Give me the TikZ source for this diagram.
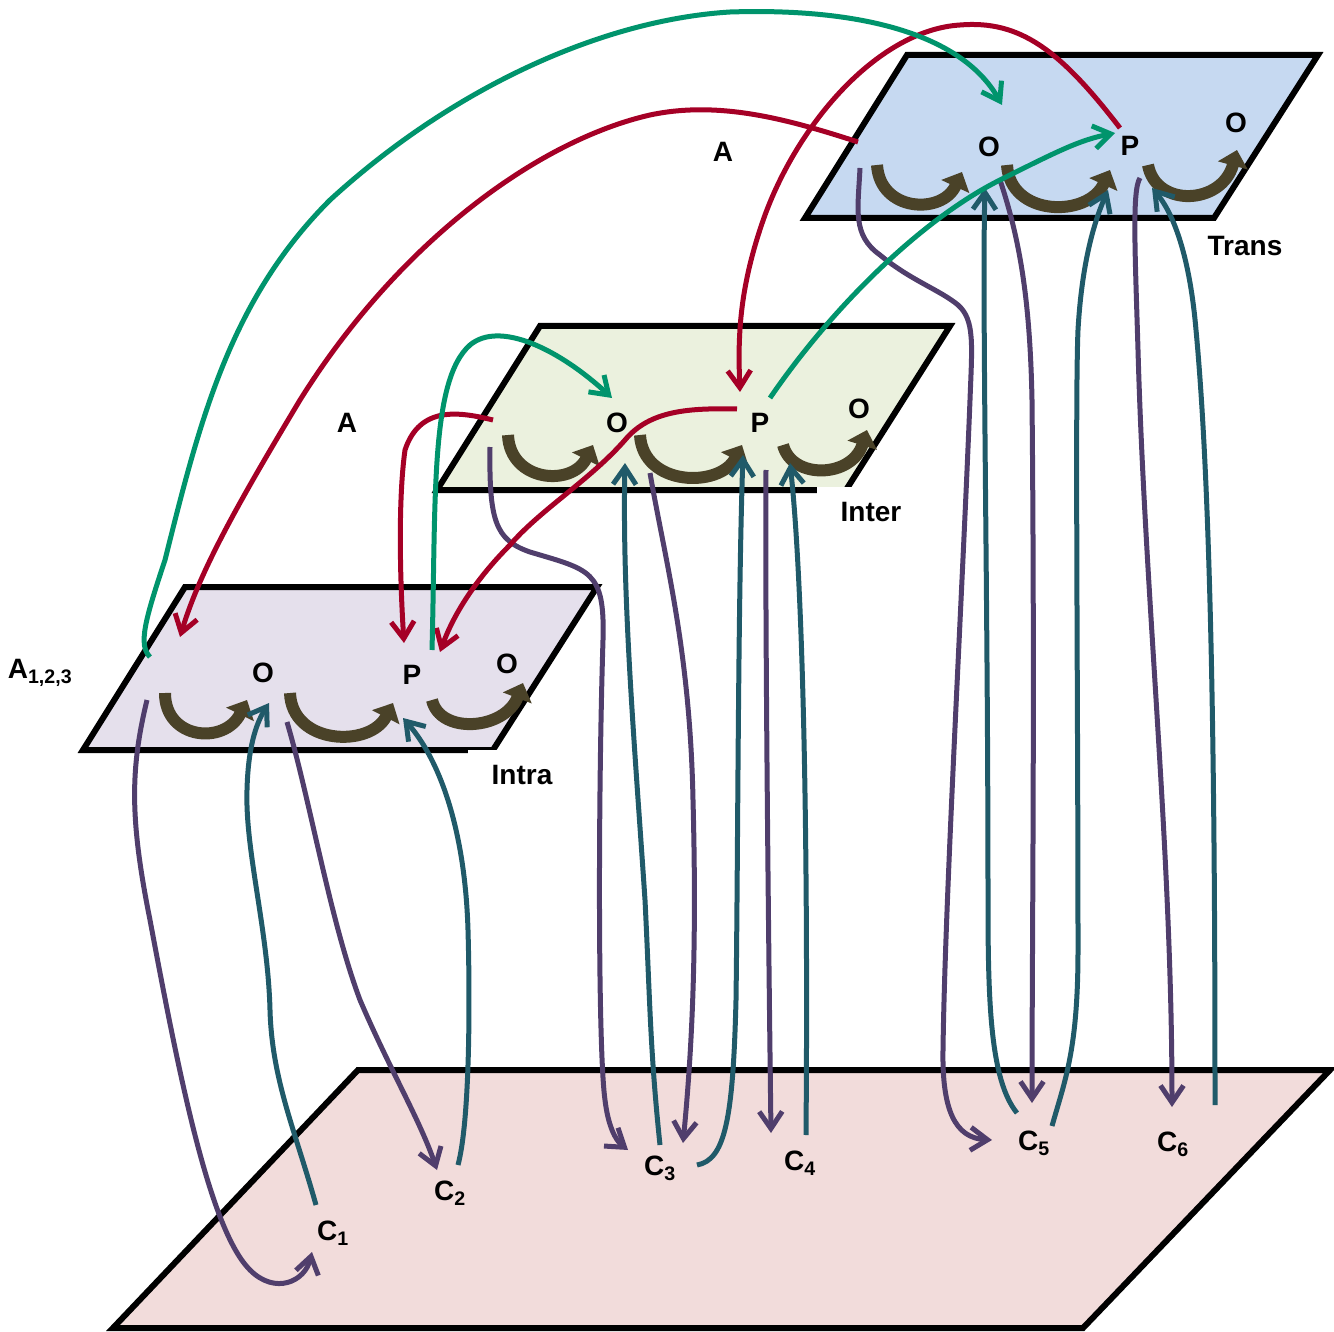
\documentclass[tikz,border=0pt]{standalone}
\usepackage{fontspec}
\setmainfont{Liberation Sans}
\usetikzlibrary{arrows.meta}

\definecolor{redln}{RGB}{165,0,38}
\definecolor{greenln}{RGB}{0,148,108}
\definecolor{purpleln}{RGB}{80,62,108}
\definecolor{tealln}{RGB}{32,90,105}
\definecolor{turnc}{RGB}{74,66,40}
\definecolor{intrafill}{RGB}{229,224,236}
\definecolor{interfill}{RGB}{235,241,222}
\definecolor{transfill}{RGB}{198,217,241}
\definecolor{basefill}{RGB}{242,220,219}

\tikzset{
  plane/.style={draw=black, line width=6pt},
  lbl/.style={font=\fontsize{28}{31}\selectfont\bfseries, inner sep=0pt},
  lvl/.style={lbl, fill=white, inner xsep=24pt, inner ysep=15pt},
  link/.style={line width=5pt, -{Straight Barb[length=17pt,width=23pt]}},
  turn/.style={draw=turnc, line width=12pt, -{Triangle[length=16pt,width=30pt]}},
}

\begin{document}
\begin{tikzpicture}[x=1pt,y=-1pt]
\useasboundingbox (0,0) rectangle (1334,1332);

% Planes
\draw[plane, fill=basefill] (113,1328) -- (358,1070) -- (1330,1070) -- (1083,1328) -- cycle;
\draw[plane, fill=intrafill] (83,750) -- (185,587) -- (597,587) -- (493,750) -- cycle;
\draw[plane, fill=interfill] (437,490) -- (540,326) -- (950,326) -- (846,490) -- cycle;
\draw[plane, fill=transfill] (805,218) -- (907,55) -- (1318,55) -- (1214,218) -- cycle;

% Level names
\node[lvl] (intra) at (522,775) {Intra};
\node[lvl] (inter) at (871,512) {Inter};
\node[lvl] (trans) at (1245,246) {Trans};

% Letters on the planes
\node[lbl] (intraO) at (263,673) {O};
\node[lbl] (intraP) at (412,675) {P};
\node[lbl] (intraO2) at (507,664) {O};
\node[lbl] (interO) at (617,423) {O};
\node[lbl] (interP) at (760,423) {P};
\node[lbl] (interO2) at (859,409) {O};
\node[lbl] (transO) at (989,147) {O};
\node[lbl] (transP) at (1130,146) {P};
\node[lbl] (transO2) at (1236,123) {O};

\node[lbl] (aTop) at (723,152) {A};
\node[lbl] (aMid) at (347,423) {A};
\node[lbl] (aLow) at (40,673) {A\textsubscript{1,2,3}};

% Bottom labels
\node[lbl] (c1) at (333,1233) {C\textsubscript{1}};
\node[lbl] (c2) at (450,1193) {C\textsubscript{2}};
\node[lbl] (c3) at (660,1168) {C\textsubscript{3}};
\node[lbl] (c4) at (800,1163) {C\textsubscript{4}};
\node[lbl] (c5) at (1034,1143) {C\textsubscript{5}};
\node[lbl] (c6) at (1173,1144) {C\textsubscript{6}};

% Turning arrows
\draw[turn] (165,693) .. controls (165,740) and (225,745) .. (247,700);
\draw[turn] (290,693) .. controls (292,745) and (370,748) .. (393,703);
\draw[turn] (432,700) .. controls (440,735) and (505,730) .. (523,683);
\draw[turn] (508,435) .. controls (510,482) and (572,487) .. (593,445);
\draw[turn] (640,435) .. controls (643,487) and (720,488) .. (742,445);
\draw[turn] (783,445) .. controls (792,480) and (852,478) .. (867,430);
\draw[turn] (877,165) .. controls (880,212) and (942,215) .. (962,172);
\draw[turn] (1007,165) .. controls (1010,217) and (1088,218) .. (1110,170);
\draw[turn] (1148,165) .. controls (1156,208) and (1222,205) .. (1237,150);

% Ports
\coordinate (intraSw) at (147,700);
\coordinate (intraSo) at (287,722);
\coordinate (intraTo) at (269,703);
\coordinate (intraTp) at (403,718);
\coordinate (intraRo) at (180,637);
\coordinate (intraRa) at (404,643);
\coordinate (intraRp) at (440,652);
\coordinate (intraGp) at (432,650);
\coordinate (intraGw) at (150,657);
\coordinate (interSw) at (490,447);
\coordinate (interSo) at (650,473);
\coordinate (interSp) at (766,470);
\coordinate (interTo) at (625,463);
\coordinate (interTp) at (743,455);
\coordinate (interTe) at (790,463);
\coordinate (interRw) at (493,420);
\coordinate (interRp) at (737,409);
\coordinate (interRin) at (740,392);
\coordinate (interGo) at (612,398);
\coordinate (interGp) at (770,398);
\coordinate (transSw) at (860,168);
\coordinate (transSo) at (1000,180);
\coordinate (transSp) at (1140,178);
\coordinate (transTo) at (985,188);
\coordinate (transTp) at (1108,190);
\coordinate (transTe) at (1152,188);
\coordinate (transRw) at (858,142);
\coordinate (transRp) at (1120,128);
\coordinate (transGo) at (1002,105);
\coordinate (transGp) at (1115,133);
\coordinate (c1in) at (312,1252);
\coordinate (c1out) at (316,1205);
\coordinate (c2in) at (437,1170);
\coordinate (c2out) at (458,1165);
\coordinate (c3ina) at (628,1150);
\coordinate (c3inb) at (683,1143);
\coordinate (c3outa) at (660,1145);
\coordinate (c3outb) at (697,1165);
\coordinate (c4in) at (771,1133);
\coordinate (c4out) at (806,1135);
\coordinate (c5ina) at (992,1140);
\coordinate (c5inb) at (1032,1103);
\coordinate (c5outa) at (1017,1113);
\coordinate (c5outb) at (1052,1126);
\coordinate (c6in) at (1172,1107);
\coordinate (c6out) at (1215,1105);

% Downward links
\draw[link, purpleln] (intraSw) .. controls (130,770) and (130,820) .. (150,920) .. controls (180,1080) and (210,1230) .. (250,1270) .. controls (275,1295) and (305,1282) .. (c1in);
\draw[link, purpleln] (intraSo) .. controls (310,800) and (330,920) .. (360,1000) .. controls (390,1070) and (420,1120) .. (c2in);
\draw[link, purpleln] (interSw) .. controls (489,520) and (495,540) .. (530,552) .. controls (590,570) and (605,570) .. (603,640) .. controls (598,800) and (598,1050) .. (605,1100) .. controls (608,1125) and (615,1140) .. (c3ina);
\draw[link, purpleln] (interSo) .. controls (665,560) and (690,650) .. (693,800) .. controls (697,950) and (692,1050) .. (c3inb);
\draw[link, purpleln] (interSp) .. controls (765,600) and (768,900) .. (c4in);
\draw[link, purpleln] (transSw) .. controls (858,210) and (852,235) .. (880,255) .. controls (910,280) and (940,290) .. (958,305) .. controls (975,320) and (972,345) .. (970,400) .. controls (962,600) and (945,900) .. (943,1050) .. controls (942,1110) and (955,1138) .. (c5ina);
\draw[link, purpleln] (transSo) .. controls (1020,240) and (1030,300) .. (1032,400) .. controls (1035,700) and (1032,950) .. (c5inb);
\draw[link, purpleln] (transSp) .. controls (1132,190) and (1135,250) .. (1138,350) .. controls (1145,600) and (1172,850) .. (c6in);

% Upward links
\draw[link, tealln] (c1out) .. controls (295,1130) and (272,1080) .. (270,1010) .. controls (268,930) and (245,850) .. (247,790) .. controls (248,750) and (255,725) .. (intraTo);
\draw[link, tealln] (c2out) .. controls (470,1120) and (470,1000) .. (468,930) .. controls (465,830) and (440,760) .. (intraTp);
\draw[link, tealln] (c3outa) .. controls (650,1050) and (650,1000) .. (645,900) .. controls (635,750) and (622,600) .. (interTo);
\draw[link, tealln] (c3outb) .. controls (725,1160) and (733,1120) .. (736,1000) .. controls (738,850) and (738,600) .. (interTp);
\draw[link, tealln] (c4out) .. controls (808,900) and (805,600) .. (interTe);
\draw[link, tealln] (c5outa) .. controls (990,1080) and (988,1000) .. (988,900) .. controls (988,600) and (982,300) .. (transTo);
\draw[link, tealln] (c5outb) .. controls (1065,1080) and (1078,1050) .. (1078,950) .. controls (1078,700) and (1075,400) .. (1078,330) .. controls (1082,260) and (1095,220) .. (transTp);
\draw[link, tealln] (c6out) .. controls (1215,800) and (1212,500) .. (1196,330) .. controls (1190,260) and (1175,215) .. (transTe);

% Links between levels
\draw[link, redln] (transRp) .. controls (1060,50) and (1020,20) .. (960,25) .. controls (880,30) and (800,120) .. (765,215) .. controls (738,290) and (738,340) .. (interRin);
\draw[link, redln] (transRw) .. controls (790,120) and (720,100) .. (650,115) .. controls (540,140) and (400,240) .. (300,400) .. controls (240,500) and (200,570) .. (intraRo);
\draw[link, redln] (interRp) .. controls (690,408) and (650,410) .. (625,440) .. controls (590,480) and (540,510) .. (510,545) .. controls (480,575) and (455,610) .. (intraRp);
\draw[link, redln] (interRw) .. controls (460,412) and (420,405) .. (405,450) .. controls (398,500) and (400,580) .. (intraRa);
\draw[link, greenln] (intraGw) .. controls (138,645) and (145,620) .. (165,560) .. controls (200,420) and (230,300) .. (330,200) .. controls (450,90) and (600,20) .. (730,12) .. controls (850,8) and (960,30) .. (transGo);
\draw[link, greenln] (intraGp) .. controls (436,500) and (430,380) .. (470,345) .. controls (500,320) and (560,350) .. (interGo);
\draw[link, greenln] (interGp) .. controls (830,310) and (920,220) .. (1000,180) .. controls (1060,150) and (1080,140) .. (transGp);

\end{tikzpicture}
\end{document}
